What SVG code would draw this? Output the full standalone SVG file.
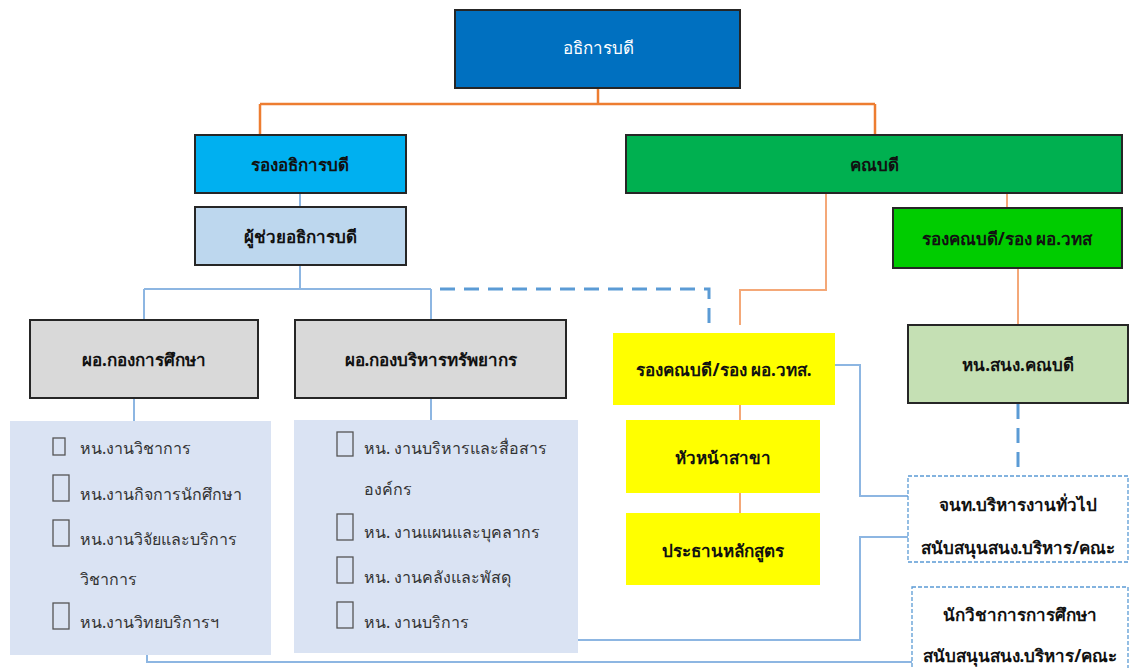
<svg xmlns="http://www.w3.org/2000/svg" width="1132" height="668" viewBox="0 0 1132 668">
<style>
.box{stroke:#262626;stroke-width:2}
.t{font-family:"Noto Sans","DejaVu Sans",Tahoma,sans-serif;font-size:17px;text-anchor:middle;dominant-baseline:central;fill:#111;font-weight:bold}
.w{fill:#fff;font-weight:normal}
.it{font-family:"Noto Sans","DejaVu Sans",Tahoma,sans-serif;font-size:16px;fill:#333;dominant-baseline:central}
.cb{fill:none;stroke:#555;stroke-width:1.3}
.o1{fill:none;stroke:#ED7D31;stroke-width:2.5}
.o2{fill:none;stroke:#F4A878;stroke-width:2}
.b{fill:none;stroke:#8DB6E2;stroke-width:2}
.bd{fill:none;stroke:#5B9BD5;stroke-width:3;stroke-dasharray:15 9}
.db{fill:#fff;stroke:#5B9BD5;stroke-width:1.3;stroke-dasharray:4 2}
</style>
<rect width="1132" height="668" fill="#fff"/>
<g id="connectors">
<path class="o1" d="M598 88V104M260 104H875M260 104V135M875 104V135"/>
<path class="o2" d="M826 193V290H740V325M1007 193V208M1018 268V325M740 405V420M740 493V513"/>
<path class="b" d="M300 193V207M300 265V289M144 289H431M144 289V320M431 289V320M134 398V421M431 398V421"/>
<path class="bd" d="M440 289H709V328"/>
<path class="bd" d="M1018 404V476"/>
<path class="b" d="M835 365H860V496H908M578 640H860V537H908M147 655V662H912"/>
</g>
<g id="n-president"><rect class="box" x="455" y="10" width="285" height="78" fill="#0070C0"/><text class="t w" x="598" y="47">อธิการบดี</text></g>
<g id="n-vp"><rect class="box" x="195" y="135" width="211" height="58" fill="#00B0F0"/><text class="t" x="300" y="164">รองอธิการบดี</text></g>
<g id="n-asst"><rect class="box" x="195" y="207" width="211" height="58" fill="#BDD7EE"/><text class="t" x="300" y="236">ผู้ช่วยอธิการบดี</text></g>
<g id="n-dean"><rect class="box" x="626" y="135" width="496" height="58" fill="#00B050"/><text class="t" x="874" y="164">คณบดี</text></g>
<g id="n-vdean"><rect class="box" x="893" y="208" width="229" height="60" fill="#00CC00"/><text class="t" x="1007" y="238">รองคณบดี/รอง ผอ.วทส</text></g>
<g id="n-edu"><rect class="box" x="30" y="320" width="228" height="78" fill="#D9D9D9"/><text class="t" x="144" y="359">ผอ.กองการศึกษา</text></g>
<g id="n-res"><rect class="box" x="295" y="320" width="271" height="78" fill="#D9D9D9"/><text class="t" x="431" y="359">ผอ.กองบริหารทรัพยากร</text></g>
<g id="n-vdean2"><rect x="613" y="333" width="222" height="72" fill="#FFFF00"/><text class="t" x="724" y="369">รองคณบดี/รอง ผอ.วทส.</text></g>
<g id="n-head"><rect x="626" y="420" width="194" height="73" fill="#FFFF00"/><text class="t" x="723" y="457">หัวหน้าสาขา</text></g>
<g id="n-chair"><rect x="626" y="513" width="194" height="72" fill="#FFFF00"/><text class="t" x="723" y="550">ประธานหลักสูตร</text></g>
<g id="n-office"><rect class="box" x="908" y="325" width="220" height="78" fill="#C5E0B4"/><text class="t" x="1018" y="364">หน.สนง.คณบดี</text></g>
<g id="n-panel-edu">
<rect x="10" y="421" width="261" height="234" fill="#DAE3F3"/>
<rect class="cb" x="53" y="438" width="12" height="17"/>
<rect class="cb" x="53" y="475" width="16" height="26"/>
<rect class="cb" x="53" y="520" width="16" height="26"/>
<rect class="cb" x="53" y="603" width="16" height="26"/>
<text class="it" x="80" y="448">หน.งานวิชาการ</text>
<text class="it" x="80" y="494">หน.งานกิจการนักศึกษา</text>
<text class="it" x="80" y="539">หน.งานวิจัยและบริการ</text>
<text class="it" x="80" y="579">วิชาการ</text>
<text class="it" x="80" y="622">หน.งานวิทยบริการฯ</text>
</g>
<g id="n-panel-res">
<rect x="294" y="420" width="284" height="233" fill="#DAE3F3"/>
<rect class="cb" x="337" y="432" width="16" height="24"/>
<rect class="cb" x="337" y="514" width="16" height="26"/>
<rect class="cb" x="337" y="557" width="16" height="26"/>
<rect class="cb" x="337" y="602" width="16" height="26"/>
<text class="it" x="364" y="448">หน. งานบริหารและสื่อสาร</text>
<text class="it" x="364" y="489">องค์กร</text>
<text class="it" x="364" y="532">หน. งานแผนและบุคลากร</text>
<text class="it" x="364" y="577">หน. งานคลังและพัสดุ</text>
<text class="it" x="364" y="622">หน. งานบริการ</text>
</g>
<g id="n-staff1"><rect class="db" x="908" y="476" width="220" height="86"/><text class="t" x="1018" y="504">จนท.บริหารงานทั่วไป</text><text class="t" x="1018" y="547">สนับสนุนสนง.บริหาร/คณะ</text></g>
<g id="n-staff2"><rect class="db" x="912" y="587" width="216" height="100"/><text class="t" x="1020" y="614">นักวิชาการการศึกษา</text><text class="t" x="1020" y="655">สนับสนุนสนง.บริหาร/คณะ</text></g>
</svg>
